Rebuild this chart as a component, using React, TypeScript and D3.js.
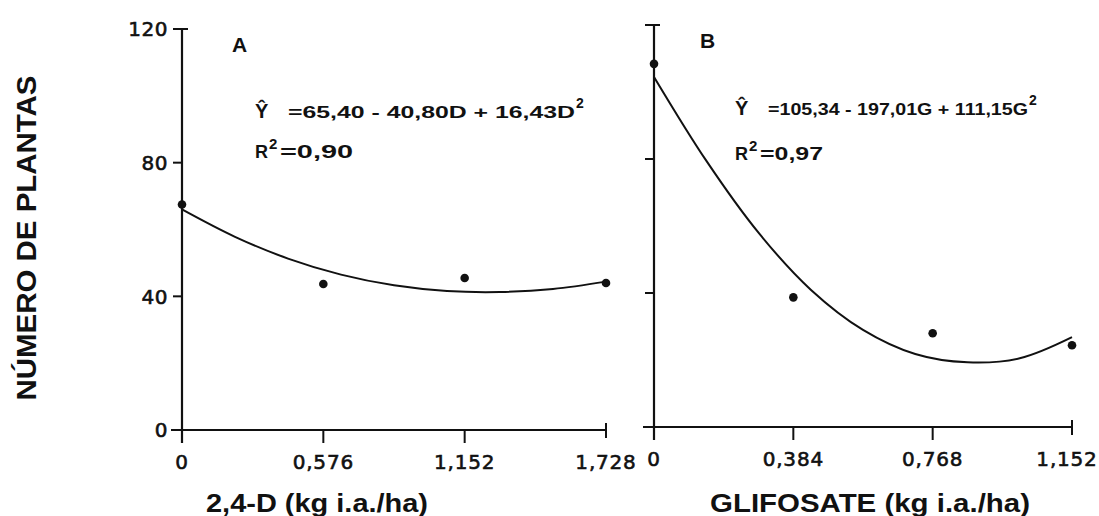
import React from "react";
import * as d3 from "d3";

// ---- data ----
const yTicks = [0, 40, 80, 120];

const xTicksA = [0, 0.576, 1.152, 1.728];
const xLabelsA = ["0", "0,576", "1,152", "1,728"];
const doseA = [0, 0.576, 1.152, 1.728];
const plantsA = [67.5, 43.7, 45.5, 44.0];
const fitXA = [0, 0.216, 0.432, 0.648, 0.864, 1.08, 1.296, 1.512, 1.728];
const fitYA = [66.0, 57.8, 51.3, 46.5, 43.3, 41.6, 41.3, 42.2, 44.4];

const xTicksB = [0, 0.384, 0.768, 1.152];
const xLabelsB = ["0", "0,384", "0,768", "1,152"];
const doseB = [0, 0.384, 0.768, 1.152];
const plantsB = [108.4, 38.7, 28.0, 24.4];
const fitXB = [0, 0.144, 0.288, 0.432, 0.576, 0.72, 0.864, 1.008, 1.152];
const fitYB = [104.5, 79.5, 58.0, 41.0, 29.0, 21.8, 19.3, 20.5, 26.8];

const INK = "#111";
const TICKFONT = "'DejaVu Sans', Verdana, sans-serif";
const BOLDFONT = "Arial, 'Liberation Sans', Helvetica, sans-serif";

type PanelProps = {
  x0: number; x1: number; y0: number; y1: number;
  xMax: number;
  xTicks: number[]; xLabels: string[];
  dose: number[]; plants: number[];
  fitX: number[]; fitY: number[];
  showYLabels: boolean;
  letter: string; letterX: number; letterY: number;
  eqX: number; eqY: number; eqText: string; eqEnd: number;
  r2Y: number; r2Text: string; r2End: number;
  title: string; titleX: number; titleW: number;
};

function Panel(p: PanelProps) {
  const x = d3.scaleLinear().domain([0, p.xMax]).range([p.x0, p.x1]);
  const y = d3.scaleLinear().domain([0, 120]).range([p.y0, p.y1]);
  const line = d3
    .line<number>()
    .x((_, i) => x(p.fitX[i]))
    .y((d) => y(d))
    .curve(d3.curveCatmullRom.alpha(0.5));
  const fitPath = line(p.fitY) || "";
  return (
    <g>
      {/* y axis */}
      <line x1={p.x0} x2={p.x0} y1={y(120)} y2={p.y0 + 13} stroke={INK} strokeWidth={2.2} />
      <line x1={p.x0 - 8} x2={p.x0 + 6} y1={y(120)} y2={y(120)} stroke={INK} strokeWidth={2} />
      {yTicks.map((t) => (
        <g key={"yt" + t}>
          <line x1={p.x0 - 9} x2={p.x0} y1={y(t)} y2={y(t)} stroke={INK} strokeWidth={2} />
          {p.showYLabels && (
            <text x={p.x0 - 14} y={y(t)} dy="0.36em" textAnchor="end"
              fontFamily={TICKFONT} fontSize={20} letterSpacing={0.5} fill={INK}
              stroke={INK} strokeWidth={0.6}>
              {t}
            </text>
          )}
        </g>
      ))}
      {/* x axis */}
      <line x1={p.x0 - 11} x2={p.x1} y1={p.y0} y2={p.y0} stroke={INK} strokeWidth={2.2} />
      <line x1={p.x1} x2={p.x1} y1={p.y0 - 7} y2={p.y0 + 8} stroke={INK} strokeWidth={2} />
      {p.xTicks.map((t, i) => (
        <g key={"xt" + i}>
          {i > 0 && i < p.xTicks.length - 1 && (
            <line x1={x(t)} x2={x(t)} y1={p.y0} y2={p.y0 + 13} stroke={INK} strokeWidth={2} />
          )}
          <text x={Math.min(x(t), 1067)} y={p.y0 + 39} textAnchor="middle"
            fontFamily={TICKFONT} fontSize={20} letterSpacing={0.8} fill={INK}
            stroke={INK} strokeWidth={0.6}>
            {p.xLabels[i]}
          </text>
        </g>
      ))}
      {/* fit curve */}
      <path d={fitPath} fill="none" stroke={INK} strokeWidth={2} />
      {/* points */}
      {p.dose.map((d, i) => (
        <circle key={"pt" + i} cx={x(d)} cy={y(p.plants[i])} r={4.3} fill={INK} />
      ))}
      {/* panel letter */}
      <text x={p.letterX} y={p.letterY} fontFamily={BOLDFONT} fontWeight="bold" fontSize={21} fill={INK}>
        {p.letter}
      </text>
      {/* equation */}
      <text x={p.eqX} y={p.eqY} fontFamily={BOLDFONT} fontWeight="bold" fontSize={20} fill={INK}>
        Ŷ
      </text>
      <text x={p.eqX + 33} y={p.eqY} fontFamily={BOLDFONT} fontWeight="bold" fontSize={17}
        fill={INK} textLength={p.eqEnd - (p.eqX + 33)} lengthAdjust="spacingAndGlyphs">
        {p.eqText}
      </text>
      <text x={p.eqEnd + 1} y={p.eqY - 10} fontFamily={BOLDFONT} fontWeight="bold" fontSize={14} fill={INK}>
        2
      </text>
      <text x={p.eqX} y={p.r2Y} fontFamily={BOLDFONT} fontWeight="bold" fontSize={18} fill={INK}>
        R
      </text>
      <text x={p.eqX + 14} y={p.r2Y - 9} fontFamily={BOLDFONT} fontWeight="bold" fontSize={15} fill={INK}>
        2
      </text>
      <text x={p.eqX + 25} y={p.r2Y} fontFamily={BOLDFONT} fontWeight="bold" fontSize={18}
        fill={INK} textLength={p.r2End - (p.eqX + 25)} lengthAdjust="spacingAndGlyphs">
        {p.r2Text}
      </text>
      {/* axis title */}
      <text x={p.titleX} y={512} fontFamily={BOLDFONT} fontWeight="bold" fontSize={25}
        fill={INK} textLength={p.titleW} lengthAdjust="spacingAndGlyphs">
        {p.title}
      </text>
    </g>
  );
}

export default function App() {
  return (
    <svg width={1099} height={516} viewBox="0 0 1099 516"
      style={{ position: "absolute", left: 0, top: 0, background: "#fff" }}>
      <rect x={0} y={0} width={1099} height={516} fill="#fff" />
      <text transform="translate(36,238) rotate(-90)" textAnchor="middle"
        fontFamily={BOLDFONT} fontWeight="bold" fontSize={28} fill={INK}
        textLength={325} lengthAdjust="spacingAndGlyphs">
        NÚMERO DE PLANTAS
      </text>
      <Panel
        x0={182} x1={606} y0={430} y1={29} xMax={1.728}
        xTicks={xTicksA} xLabels={xLabelsA} dose={doseA} plants={plantsA}
        fitX={fitXA} fitY={fitYA} showYLabels={true}
        letter="A" letterX={232} letterY={52}
        eqX={255} eqY={118} eqText="=65,40 - 40,80D + 16,43D" eqEnd={575}
        r2Y={158} r2Text="=0,90" r2End={353}
        title="2,4-D (kg i.a./ha)" titleX={206} titleW={222}
      />
      <Panel
        x0={654} x1={1072} y0={427} y1={25} xMax={1.152}
        xTicks={xTicksB} xLabels={xLabelsB} dose={doseB} plants={plantsB}
        fitX={fitXB} fitY={fitYB} showYLabels={false}
        letter="B" letterX={700} letterY={48}
        eqX={735} eqY={115} eqText="=105,34 - 197,01G + 111,15G" eqEnd={1028}
        r2Y={160} r2Text="=0,97" r2End={823}
        title="GLIFOSATE (kg i.a./ha)" titleX={710} titleW={320}
      />
    </svg>
  );
}
